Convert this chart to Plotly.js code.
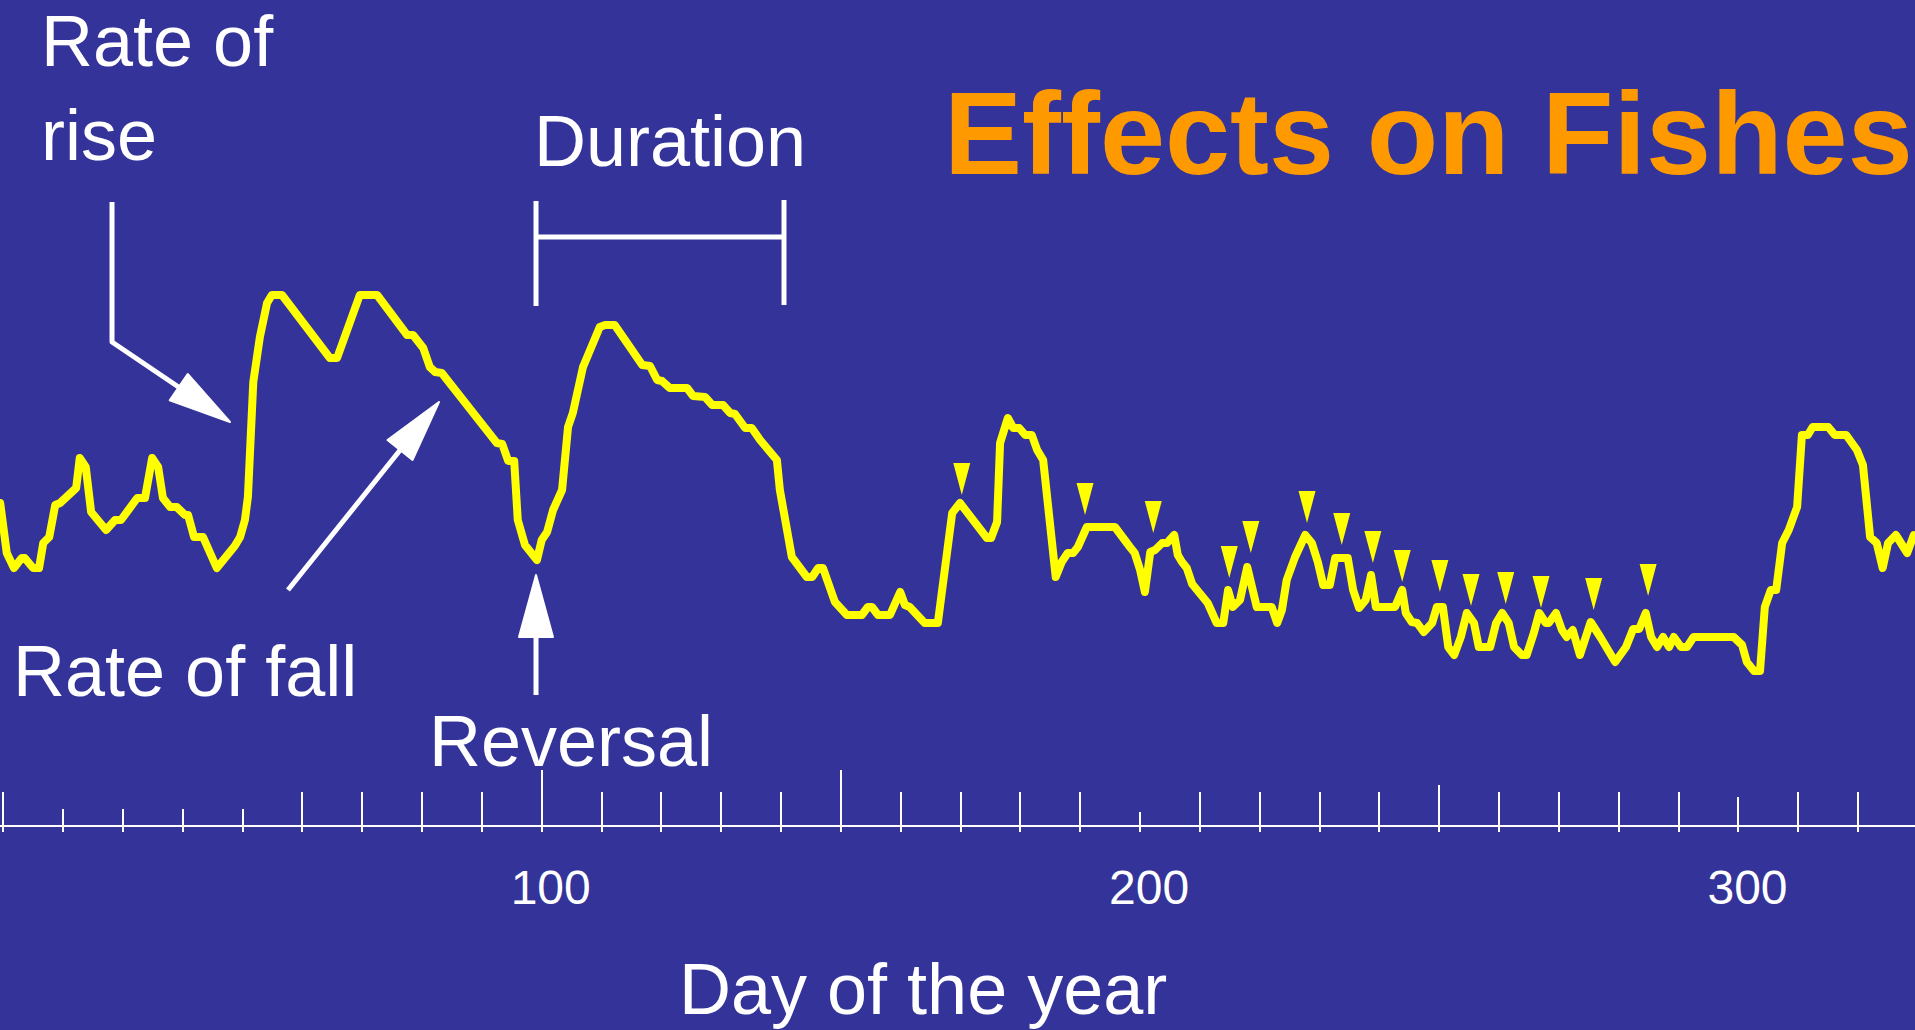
<!DOCTYPE html>
<html>
<head>
<meta charset="utf-8">
<script src="https://cdn.plot.ly/plotly-3.0.1.min.js"></script>
<style>
html,body{margin:0;padding:0;background:#333399;overflow:hidden;}
#chart{width:1915px;height:1030px;}
#chart .scatterlayer .js-line{stroke-linejoin:round;stroke-linecap:round;}
#chart .shapelayer path{stroke-linejoin:round;}
</style>
</head>
<body>
<div id="chart"></div>
<script>
// ---------- DATA ----------
const days = [9.5,10.6,11.8,13.1,13.6,15.0,16.0,16.7,17.7,18.7,19.5,22.2,22.8,23.8,24.7,27.2,28.7,29.7,32.4,33.7,
34.9,35.9,36.7,37.9,39.0,40.4,40.9,41.9,43.4,45.7,48.7,49.6,50.4,50.9,51.8,52.9,54.1,54.9,56.6,64.6,
65.8,69.6,72.5,77.5,78.5,80.2,81.3,82.2,83.3,89.2,92.5,93.4,94.4,95.4,96.0,97.2,99.2,100.0,100.9,101.9,
103.4,104.4,105.2,106.9,108.6,109.7,110.6,112.2,116.8,118.1,119.3,120.1,121.4,124.3,125.3,127.3,128.5,130.3,131.5,132.3,
134.0,135.1,136.5,139.3,139.8,140.7,141.8,144.3,145.2,146.2,147.0,149.0,151.0,153.5,154.5,155.2,156.2,158.2,159.9,160.7,
161.5,164.0,166.2,168.6,169.9,174.4,175.1,176.1,176.6,177.9,178.8,179.8,180.8,181.9,182.8,183.8,185.9,186.9,187.9,188.8,
189.6,191.1,195.8,198.3,199.1,200.0,200.8,201.7,202.5,203.7,204.5,205.7,206.3,207.0,207.8,208.7,211.3,212.8,213.9,214.7,
215.5,216.7,217.9,219.5,222.0,222.9,223.7,224.5,225.9,227.6,228.7,229.7,230.6,231.7,232.6,234.7,235.6,236.6,237.7,238.6,
239.4,242.6,243.8,244.4,245.4,246.3,247.4,248.8,249.6,250.6,251.5,252.5,253.6,254.6,255.8,256.6,258.5,259.5,260.5,261.6,
262.5,263.8,264.6,265.8,266.7,267.8,268.3,269.5,270.5,271.3,272.3,273.5,274.5,275.3,276.9,279.4,281.2,282.4,283.4,284.5,
285.4,286.4,287.4,288.4,289.2,290.4,291.4,292.5,299.2,300.6,301.4,302.6,303.6,304.4,305.4,306.3,307.3,308.4,309.8,310.6,
311.6,312.4,315.0,316.1,318.0,319.8,320.8,322.0,323.1,324.1,325.0,326.3,328.2,329.3];

const stage = [14.85,12.35,11.6,12.1,12.1,11.6,11.6,12.85,13.15,14.75,14.85,15.6,17.1,16.65,14.4,13.5,14.0,14.0,15.1,15.1,
17.1,16.65,15.1,14.65,14.65,14.25,14.25,13.15,13.15,11.6,12.7,13.15,14.0,15.15,20.9,23.15,24.85,25.25,25.25,22.1,
22.1,25.25,25.25,23.25,23.25,22.6,21.65,21.4,21.35,19.15,17.85,17.8,16.95,16.95,14.0,12.75,12.0,13.0,13.4,14.5,
15.5,18.65,19.35,21.65,23.0,23.65,23.75,23.75,21.75,21.7,21.0,20.95,20.6,20.6,20.2,20.15,19.75,19.75,19.35,19.3,
18.6,18.6,18.0,17.0,15.5,13.85,12.15,11.15,11.15,11.6,11.6,9.9,9.25,9.25,9.65,9.65,9.25,9.25,10.4,9.75,
9.65,8.85,8.85,14.35,14.85,13.1,13.1,13.9,17.85,19.1,18.6,18.6,18.25,18.25,17.5,17.0,11.15,11.9,12.35,12.35,
12.65,13.65,13.65,12.65,12.35,11.5,10.4,12.4,12.5,12.85,12.85,13.25,12.25,11.9,11.6,10.8,9.85,8.85,8.85,10.5,
9.65,10.0,11.65,9.65,9.65,8.85,9.5,11.0,12.15,13.25,12.85,11.9,10.75,10.75,12.1,12.1,10.5,9.6,10.0,11.25,
9.65,9.65,10.5,9.35,8.9,8.85,8.4,8.85,9.65,9.65,7.65,7.25,8.15,9.35,8.85,7.65,7.65,8.85,9.35,8.85,
7.65,7.25,7.25,8.35,9.35,8.85,8.85,9.35,8.5,8.15,8.5,7.25,8.15,8.9,8.15,6.9,7.65,8.55,8.55,9.35,
8.15,7.65,8.15,7.65,8.15,7.65,7.65,8.15,8.15,7.75,6.9,6.45,6.45,9.65,10.5,10.5,12.85,13.5,14.65,18.25,
18.25,18.65,18.65,18.25,18.25,17.5,16.75,13.15,12.85,11.6,12.85,13.25,12.35,13.25];

// small yellow arrowheads marking individual peaks (tip position)
const peakDays  = [170.2,190.8,202.2,214.9,218.5,227.9,233.7,238.9,243.8,250.1,255.3,261.1,267.0,275.8,284.9];
const peakStage = [15.25,14.25,13.35,11.1,12.35,13.85,12.75,11.85,10.9,10.4,9.7,9.8,9.6,9.5,10.2];

// x axis ticks
const tickLabelDays = [100,200,300];
const tickLabels = ['100','200','300'];
const ticksRegular = [10,60,70,80,90,110,120,130,140,160,170,180,190,210,220,230,240,260,270,280,290,310,320];
const ticksShort = [20,30,40,50];
const ticksTall = [100,150];
const ticksDay200 = [200];
const ticksDay250 = [250];
const ticksDay300 = [300];

// ---------- LAYOUT ----------
const W = 1915, H = 1030;
const xRange = [9.47, 329.5];
const yRange = [-11.5, 40];
const axisPos = (H - 826) / H;
const FONT = 'Liberation Sans, Arial, Helvetica, sans-serif';
const WHITE = '#ffffff';

const px = x => x / W;
const py = y => 1 - y / H;
const pt = (x, y) => px(x).toFixed(5) + ',' + py(y).toFixed(5);

const traces = [{
  type: 'scatter', mode: 'lines', x: days, y: stage,
  line: {color: '#FFFF00', width: 8},
  hoverinfo: 'skip', showlegend: false
}];

const layout = {
  width: W, height: H,
  margin: {l: 0, r: 0, t: 0, b: 0, pad: 0},
  paper_bgcolor: '#333399', plot_bgcolor: '#333399',
  showlegend: false,
  title: {
    text: '<b>Effects on Fishes</b>',
    font: {family: FONT, size: 117, color: '#FF9900'},
    xref: 'paper', x: 944 / W, xanchor: 'left',
    yref: 'container', y: 1 - 92 / H, yanchor: 'top',
    pad: {t: 0, b: 0, l: 0, r: 0}
  },
  xaxis: {
    range: xRange, anchor: 'free', position: axisPos, domain: [0, 1],
    showline: true, linecolor: WHITE, linewidth: 2,
    showgrid: false, zeroline: false,
    ticks: '', tickmode: 'array', tickvals: tickLabelDays, ticktext: tickLabels,
    tickfont: {family: FONT, size: 48, color: WHITE},
    ticklabelstandoff: 19, ticklabelshift: 9,
    fixedrange: true
  },
  yaxis: {range: yRange, visible: false, fixedrange: true, domain: [0, 1]},
  shapes: [],
  annotations: []
};

// tick groups of different lengths drawn on overlaid axes
const tickGroups = [
  {vals: ticksRegular, len: 34, dir: 'inside'},
  {vals: ticksShort, len: 17, dir: 'inside'},
  {vals: ticksTall, len: 56, dir: 'inside'},
  {vals: ticksDay200, len: 14, dir: 'inside'},
  {vals: ticksDay250, len: 41, dir: 'inside'},
  {vals: ticksDay300, len: 29, dir: 'inside'},
  {vals: [].concat(ticksRegular, ticksShort, ticksTall, ticksDay200, ticksDay250, ticksDay300), len: 5, dir: 'outside'}
];
tickGroups.forEach((g, i) => {
  const n = i + 2;
  layout['xaxis' + n] = {
    overlaying: 'x', anchor: 'free', position: axisPos, range: xRange,
    showline: false, showgrid: false, zeroline: false, showticklabels: false,
    ticks: g.dir, ticklen: g.len, tickwidth: 2, tickcolor: WHITE,
    tickmode: 'array', tickvals: g.vals, fixedrange: true
  };
  traces.push({type: 'scatter', mode: 'lines', x: [], y: [], xaxis: 'x' + n, yaxis: 'y', hoverinfo: 'skip', showlegend: false});
});

// yellow peak arrowheads (tip at the data point)
peakDays.forEach((d, i) => {
  layout.shapes.push({
    type: 'path', xref: 'x', yref: 'y',
    xsizemode: 'pixel', ysizemode: 'pixel',
    xanchor: d, yanchor: peakStage[i],
    path: 'M-8.5,32 L8.5,32 L0,0 Z',
    fillcolor: '#FFFF00', line: {width: 0}
  });
});

// white explanatory drawings
function whiteLine(points) {
  return {
    type: 'path', xref: 'paper', yref: 'paper',
    path: 'M' + points.map(p => pt(p[0], p[1])).join(' L'),
    line: {color: WHITE, width: 5}, layer: 'above'
  };
}
function whiteHead(points) {
  return {
    type: 'path', xref: 'paper', yref: 'paper',
    path: 'M' + points.map(p => pt(p[0], p[1])).join(' L') + ' Z',
    fillcolor: WHITE, line: {color: WHITE, width: 2}, layer: 'above'
  };
}
layout.shapes.push(
  whiteLine([[112, 202], [112, 342], [180, 388]]),
  whiteHead([[230, 422], [169.7, 400.4], [187.7, 374]]),
  whiteLine([[288, 590], [401, 449]]),
  whiteHead([[439, 402], [387.5, 440], [412.5, 460]]),
  whiteLine([[536, 695], [536, 635]]),
  whiteHead([[536, 575], [519, 637], [553, 637]]),
  whiteLine([[536, 201], [536, 306]]),
  whiteLine([[784, 200], [784, 305]]),
  whiteLine([[536, 237], [784, 237]])
);

function label(text, x, yTop, xanchor) {
  return {
    text: text, showarrow: false, xref: 'paper', yref: 'paper',
    x: px(x), y: py(yTop), xanchor: xanchor || 'left', yanchor: 'top', align: 'left',
    borderpad: 0,
    font: {family: FONT, size: 72, color: WHITE}
  };
}
layout.annotations.push(
  label('Rate of<br>rise', 40, 0),
  label('Duration', 533, 100),
  label('Rate of fall', 12, 630),
  label('Reversal', 428, 700),
  label('Day of the year', 923, 948, 'center')
);

Plotly.newPlot('chart', traces, layout, {displayModeBar: false, staticPlot: true});
</script>
</body>
</html>
